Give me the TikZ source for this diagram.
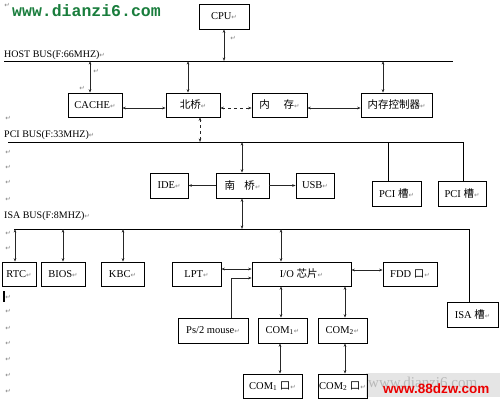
\documentclass[tikz,border=0pt]{standalone}
\usepackage{fontspec}
\setmainfont{Liberation Serif}
\newfontfamily\cjk{Noto Sans CJK SC}
\newfontfamily\djv{DejaVu Sans}
\newfontfamily\wmmono{Liberation Mono}
\newfontfamily\wmsans{Liberation Sans}
\usetikzlibrary{arrows.meta}
\definecolor{wmgreen}{RGB}{25,125,60}
\definecolor{wmred}{RGB}{235,0,0}
\newcommand\ret{{\djv\fontsize{6.5}{7}\selectfont\color{black!50}↵}}
\begin{document}
\begin{tikzpicture}[x=1pt,y=-1pt,
 bx/.style={draw=black, line width=0.7pt, inner sep=0pt, font=\fontsize{10.5}{12}\selectfont, minimum height=24},
 cn/.style={draw=black!85, line width=0.7pt},
 bi/.style={cn, {Stealth[length=3.5pt,width=2.6pt]}-{Stealth[length=3.5pt,width=2.6pt]}},
 un/.style={cn, -{Stealth[length=3.5pt,width=2.6pt]}},
 bus/.style={draw=black, line width=0.8pt},
 lbl/.style={anchor=base west, inner sep=0pt, font=\fontsize{10}{12}\selectfont},
 rt/.style={inner sep=0pt}]
\useasboundingbox (0,0) rectangle (500,402);

% watermarks
\node[font=\wmmono\bfseries\fontsize{16.5}{18}\selectfont, text=wmgreen, inner sep=0pt, anchor=west] (wm1) at (12,11) {www.dianzi6.com};
\fill[black!10] (366,373) rectangle (500,397);
\node[font=\fontsize{15}{16}\selectfont, text=black!28, inner sep=0pt, anchor=west] (wm2) at (368,382) {www.dianzi6.com};
\node[font=\wmsans\bfseries\fontsize{13.5}{15}\selectfont, text=wmred, inner sep=0pt, anchor=west] (wm3) at (383,389) {www.88dzw.com};

% boxes
\node[bx,minimum width=50,minimum height=25] (cpu) at (224,16.5) {CPU\ret};
\node[bx,minimum width=54] (cache) at (95,105) {CACHE\ret};
\node[bx,minimum width=54] (nb) at (193,105) {\cjk 北桥\ret};
\node[bx,minimum width=55] (mem) at (279.5,105) {\cjk 内\hspace{1.3em}存\ret};
\node[bx,minimum width=71] (memctl) at (396.5,105) {\cjk 内存控制器\ret};
\node[bx,minimum width=38,minimum height=25] (ide) at (169,185.5) {IDE\ret};
\node[bx,minimum width=53,minimum height=25] (sb) at (242.5,185.5) {\cjk 南\hspace{0.9em}桥\ret};
\node[bx,minimum width=38,minimum height=25] (usb) at (315,185.5) {USB\ret};
\node[bx,minimum width=49,minimum height=25] (pci1) at (396.5,193.5) {PCI {\cjk 槽}\ret};
\node[bx,minimum width=48,minimum height=25] (pci2) at (462,193.5) {PCI {\cjk 槽}\ret};
\node[bx,minimum width=34] (rtc) at (19,274) {RTC\ret};
\node[bx,minimum width=44] (bios) at (63,274) {BIOS\ret};
\node[bx,minimum width=43] (kbc) at (122.5,274) {KBC\ret};
\node[bx,minimum width=49] (lpt) at (196.5,274) {LPT\ret};
\node[bx,minimum width=99] (io) at (301.5,274) {I/O {\cjk 芯片}\ret};
\node[bx,minimum width=54] (fdd) at (410,274) {FDD {\cjk 口}\ret};
\node[bx,minimum width=51,minimum height=25] (isaslot) at (472.5,314.5) {ISA {\cjk 槽}\ret};
\node[bx,minimum width=70,minimum height=25] (ps2) at (213,330.5) {Ps/2 mouse\ret};
\node[bx,minimum width=49,minimum height=25] (com1) at (282.5,330.5) {COM\textsubscript{1}\ret};
\node[bx,minimum width=49,minimum height=25] (com2) at (342.5,330.5) {COM\textsubscript{2}\ret};
\node[bx,minimum width=59] (com1p) at (272.5,386) {COM\textsubscript{1} {\cjk 口}\ret};
\node[bx,minimum width=49] (com2p) at (342.5,386) {COM\textsubscript{2} {\cjk 口}\ret};

% bus labels
\node[lbl] (hostlbl) at (4,57) {HOST BUS(F:66MHZ)\ret};
\node[lbl] (pcilbl) at (4,137) {PCI BUS(F:33MHZ)\ret};
\node[lbl] (isalbl) at (4,218) {ISA BUS(F:8MHZ)\ret};

% bus coordinates
\coordinate (hbL) at (4,61); \coordinate (hbR) at (453,61);
\coordinate (hcpu) at (224,61); \coordinate (hcache) at (90,61);
\coordinate (hnb) at (188,61); \coordinate (hmc) at (383,61);
\coordinate (pbL) at (8,142);
\coordinate (pnb) at (200,142); \coordinate (psb) at (242,142);
\coordinate (pp1) at (388,142); \coordinate (pp2) at (463,142);
\coordinate (ibL) at (14,229);
\coordinate (irtc) at (15,229); \coordinate (ibios) at (63,229);
\coordinate (ikbc) at (123,229); \coordinate (isb) at (242,229);
\coordinate (iio) at (281,229); \coordinate (iisa) at (469,229);
\coordinate (y108) at (0,108);
\coordinate (ylpt) at (0,269); \coordinate (yfdd) at (0,270);
\coordinate (ps2c) at (231,278);
\coordinate (c1x) at (281,300); \coordinate (c2x) at (345,300);
\coordinate (c1px) at (280,360); \coordinate (c2px) at (345,360);

% buses
\draw[bus] (hbL) -- (hbR);
\draw[bus] (pbL) -- (pp2) -- (pci2.north -| pp2);
\draw[bus] (pp1) -- (pci1.north -| pp1);
\draw[bus] (ibL) -- (iisa) -- (isaslot.north -| iisa);

% connectors
\draw[bi] (cpu.south -| hcpu) -- (hcpu);
\draw[bi] (cache.north -| hcache) -- (hcache);
\draw[bi] (nb.north -| hnb) -- (hnb);
\draw[bi] (memctl.north -| hmc) -- (hmc);
\draw[bi] (cache.east |- y108) -- (nb.west |- y108);
\draw[bi,dashed] (nb.east |- y108) -- (mem.west |- y108);
\draw[bi] (mem.east |- y108) -- (memctl.west |- y108);
\draw[bi,dashed] (nb.south -| pnb) -- (pnb);
\draw[bi] (sb.north -| psb) -- (psb);
\draw[un] (sb.west) -- (ide.east);
\draw[un] (sb.east) -- (usb.west);
\draw[bi] (sb.south -| isb) -- (isb);
\draw[bi] (rtc.north -| irtc) -- (irtc);
\draw[bi] (bios.north -| ibios) -- (ibios);
\draw[bi] (kbc.north -| ikbc) -- (ikbc);
\draw[bi] (io.north -| iio) -- (iio);
\draw[bi] (lpt.east |- ylpt) -- (io.west |- ylpt);
\draw[bi] (io.east |- yfdd) -- (fdd.west |- yfdd);
\draw[un] (ps2.north -| ps2c) -- (ps2c) -- (io.west |- ps2c);
\draw[bi] (io.south -| c1x) -- (com1.north -| c1x);
\draw[bi] (io.south -| c2x) -- (com2.north -| c2x);
\draw[bi] (com1.south -| c1px) -- (com1p.north -| c1px);
\draw[bi] (com2.south -| c2px) -- (com2p.north -| c2px);

% paragraph marks
\node[rt] (r0) at (7,5) {\ret};
\node[rt] (r1) at (233,38) {\ret};
\node[rt] (r2) at (96,71) {\ret};
\node[rt] (r3) at (82,88) {\ret};
\foreach \yy [count=\i] in {118,152,167,182,199,233,248,297,311,328,343,359,375,391}
  \node[rt] (m\i) at (8,\yy) {\ret};
\draw[line width=1.2pt] (4,291) -- (4,302);
\end{tikzpicture}
\end{document}
